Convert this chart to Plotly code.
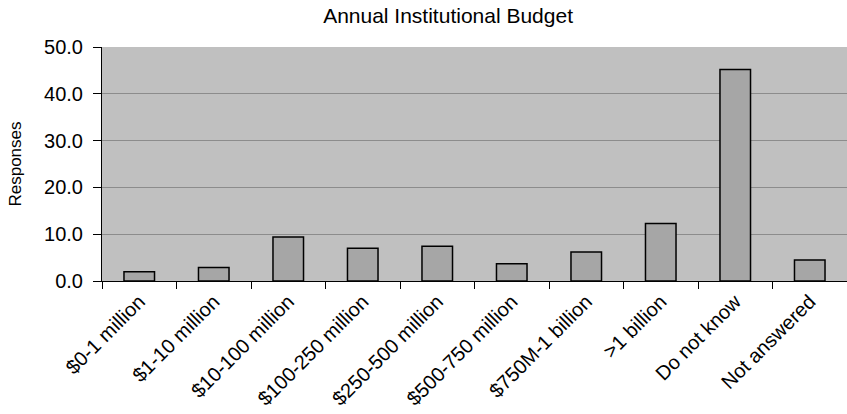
import plotly.graph_objects as go

categories = ["$0-1 million", "$1-10 million", "$10-100 million", "$100-250 million",
              "$250-500 million", "$500-750 million", "$750M-1 billion", ">1 billion",
              "Do not know", "Not answered"]
responses = [2.0, 2.9, 9.4, 7.0, 7.4, 3.7, 6.2, 12.3, 45.2, 4.5]
y_ticks = [0, 10, 20, 30, 40, 50]

fig = go.Figure()
fig.add_trace(go.Bar(
    x=categories, y=responses,
    marker=dict(color="#a6a6a6", line=dict(color="#000000", width=1.5)),
    width=0.41,
))

font_family = "Liberation Sans, Arial, sans-serif"
fig.update_layout(
    width=847, height=414,
    margin=dict(l=102, r=0, t=47, b=133),
    paper_bgcolor="white",
    plot_bgcolor="#c0c0c0",
    font=dict(family=font_family, color="#000000"),
    title=dict(text="Annual Institutional Budget", x=0.529, xanchor="center",
               y=0.962, yanchor="middle", font=dict(size=21)),
    showlegend=False,
)
fig.update_xaxes(
    tickangle=-45, tickfont=dict(size=20),
    showline=True, linecolor="#000000", linewidth=1,
    ticks="outside", tickson="boundaries", ticklen=7, tickcolor="#000000",
    showgrid=False, automargin=False,
)
fig.update_yaxes(
    range=[0, 50], tickvals=y_ticks, tickformat=".1f",
    tickfont=dict(size=20), ticklabelstandoff=6,
    showline=True, linecolor="#000000", linewidth=1,
    ticks="outside", ticklen=8, tickcolor="#000000",
    showgrid=True, gridcolor="#8c8c8c", gridwidth=1,
    zeroline=False, automargin=False,
    title=dict(text="Responses", font=dict(size=17), standoff=18),
)

fig.write_html("out.html")
